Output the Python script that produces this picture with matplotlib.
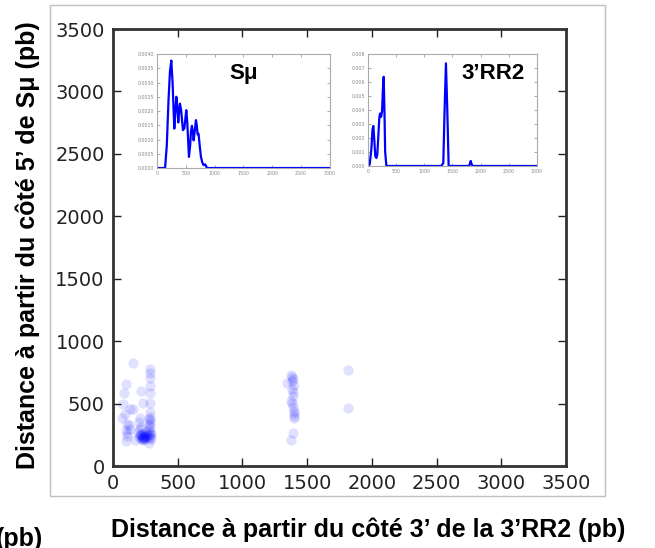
import matplotlib
matplotlib.use("Agg")
import matplotlib.pyplot as plt
from matplotlib.patches import Rectangle

# scatter: distance from 3' side of 3'RR2 (x) vs distance from 5' side of Smu (y)
x_pts = [157, 98, 88, 80, 131, 152, 67, 106, 106, 98, 100, 95, 120, 130, 105,
         214, 234, 170, 209, 217, 200, 205, 190, 215, 225, 230, 240, 210, 220, 235,
         245, 250, 200, 215, 230, 260, 255, 265, 247, 240, 225, 235,
         286, 286, 286, 286, 286, 286, 286, 286, 286, 286, 286, 286, 286, 286,
         280, 280, 280, 280, 280, 290, 290, 275,
         1373, 1347, 1393, 1388, 1380, 1402, 1402, 1393, 1373, 1385, 1380, 1390,
         1375, 1398, 1395, 1380, 1400, 1390,
         1818, 1818]
y_pts = [827, 657, 582, 496, 454, 460, 382, 336, 262, 204, 288, 420, 330, 300, 240,
         603, 502, 208, 382, 310, 350, 300, 270, 260, 240, 230, 225, 245, 250, 260,
         240, 220, 230, 215, 210, 250, 270, 230, 240, 235, 225, 215,
         774, 742, 702, 640, 582, 502, 435, 395, 368, 342, 310, 275, 248, 213,
         380, 330, 290, 260, 230, 255, 225, 187,
         728, 662, 700, 595, 502, 422, 382, 267, 208, 680, 620, 560,
         520, 440, 400, 710, 650, 470,
         769, 467]

# density curve of Smu positions
smu_x = [0, 140, 170, 200, 225, 248, 270, 300, 315, 335, 350, 369, 385, 398, 420,
         450, 475, 490, 508, 525, 554, 575, 590, 606, 620, 635, 655, 675, 690,
         704, 721, 740, 762, 785, 808, 837, 866, 3000]
smu_y = [0, 0, 0.0008, 0.0024, 0.0034, 0.00377, 0.0030, 0.00138, 0.0019, 0.0025,
         0.0022, 0.0016, 0.0020, 0.00226, 0.0020, 0.00133, 0.0014, 0.0017, 0.00203,
         0.0016, 0.00039, 0.0008, 0.0013, 0.00148, 0.0013, 0.00097, 0.0013,
         0.00168, 0.0015, 0.00118, 0.0012, 0.0008, 0.00039, 0.0002, 0.0001,
         0.00013, 0, 0]

# density curve of 3'RR2 positions
rr_x = [0, 30, 60, 80, 95, 110, 130, 149, 165, 185, 200, 214, 232, 250, 265,
        279, 292, 305, 327, 1300, 1337, 1360, 1384, 1408, 1432, 1790, 1810,
        1824, 1838, 1858, 3000]
rr_y = [0, 0.0001, 0.0012, 0.0026, 0.00286, 0.0020, 0.0007, 0.00057, 0.0008,
        0.0022, 0.0034, 0.00375, 0.0035, 0.0039, 0.0055, 0.00637, 0.0040,
        0.0010, 0, 0, 0.0002, 0.0040, 0.00733, 0.0040, 0, 0, 0.00015,
        0.00036, 0.00015, 0, 0]

ticks_main = [0, 500, 1000, 1500, 2000, 2500, 3000, 3500]

fig = plt.figure(figsize=(6.55, 5.48), dpi=100)
fig.patch.set_facecolor("white")

# light frame around the plot
fig.patches.append(Rectangle((0.0763, 0.0949), 0.847, 0.896, transform=fig.transFigure,
                             fill=False, edgecolor="#c0c0c0", linewidth=1))

ax = fig.add_axes([0.1725, 0.1496, 0.6916, 0.7974])
ax.scatter(x_pts, y_pts, s=55, color="#0000ff", alpha=0.12, linewidths=0)
ax.set_xlim(0, 3500)
ax.set_ylim(0, 3500)
ax.set_xticks(ticks_main)
ax.set_yticks(ticks_main)
ax.tick_params(direction="in", length=6, width=1, top=True, right=True,
               labelsize=14, colors="#222222", pad=6)
for sp in ax.spines.values():
    sp.set_linewidth(2)
    sp.set_color("#333333")

# inset for Smu
ax1 = fig.add_axes([0.2397, 0.6934, 0.2641, 0.208])
ax1.plot(smu_x, smu_y, color="#0000ff", linewidth=1.6)
ax1.set_xlim(0, 3000)
ax1.set_ylim(0, 0.004)
ax1.set_xticks([0, 500, 1000, 1500, 2000, 2500, 3000])
ax1.set_yticks([0, 0.0005, 0.001, 0.0015, 0.002, 0.0025, 0.003, 0.0035, 0.004])
ax1.set_yticklabels(["0.0000", "0.0005", "0.0010", "0.0015", "0.0020", "0.0025",
                     "0.0030", "0.0035", "0.0040"])
ax1.text(0.5, 0.83, "Sμ", transform=ax1.transAxes, ha="center", va="center",
         fontsize=16, fontweight="bold", family=["Liberation Sans", "DejaVu Sans"])

# inset for 3'RR2
ax2 = fig.add_axes([0.5618, 0.6971, 0.258, 0.2044])
ax2.plot(rr_x, rr_y, color="#0000ff", linewidth=1.6)
ax2.set_xlim(0, 3000)
ax2.set_ylim(0, 0.008)
ax2.set_xticks([0, 500, 1000, 1500, 2000, 2500, 3000])
ax2.set_yticks([0, 0.001, 0.002, 0.003, 0.004, 0.005, 0.006, 0.007, 0.008])
ax2.set_yticklabels(["0.000", "0.001", "0.002", "0.003", "0.004", "0.005",
                     "0.006", "0.007", "0.008"])
ax2.text(0.74, 0.83, "3’RR2", transform=ax2.transAxes, ha="center", va="center",
         fontsize=16, fontweight="bold", family=["Liberation Sans", "DejaVu Sans"])

for a in (ax1, ax2):
    a.tick_params(direction="in", length=2, width=0.5, top=True, right=True,
                  labelsize=3.4, colors="#888888", pad=2)
    for sp in a.spines.values():
        sp.set_linewidth(0.8)
        sp.set_color("#aaaaaa")

lab_font = ["Liberation Sans", "DejaVu Sans"]
fig.text(0.042, 0.552, "Distance à partir du côté 5’ de Sμ (pb)", rotation=90,
         ha="center", va="center", fontsize=18, fontweight="bold", family=lab_font)
fig.text(0.562, 0.033, "Distance à partir du côté 3’ de la 3’RR2 (pb)",
         ha="center", va="center", fontsize=18, fontweight="bold", family=lab_font)
# leftover fragment at the bottom-left corner, partly cut in the original too
fig.text(-0.006, 0.038, "(pb)", ha="left", va="top", fontsize=18,
         fontweight="bold", family=lab_font)

fig.savefig("out.png", dpi=100)
